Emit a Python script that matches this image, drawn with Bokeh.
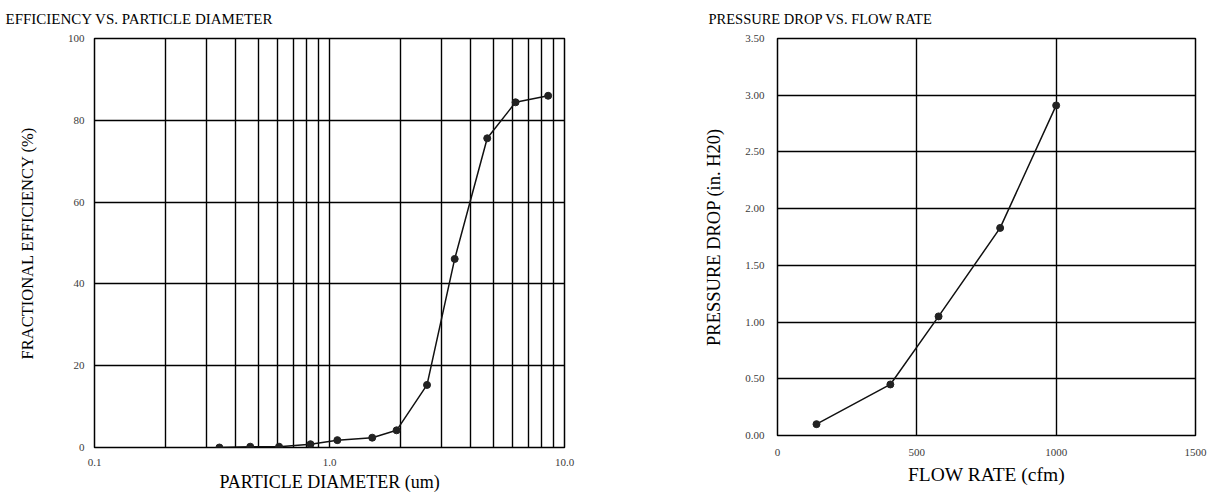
from bokeh.plotting import figure
from bokeh.layouts import row, column
from bokeh.models import Range1d, FixedTicker, PrintfTickFormatter
from bokeh.embed import file_html
from bokeh.resources import INLINE

# ---- data ----
diameter_um = [0.34, 0.46, 0.61, 0.83, 1.08, 1.52, 1.93, 2.60, 3.41, 4.69, 6.19, 8.52]
efficiency_pct = [0.0, 0.2, 0.2, 0.8, 1.8, 2.4, 4.2, 15.3, 46.1, 75.6, 84.4, 86.0]
flow_cfm = [140, 405, 578, 799, 1000]
pressure_drop = [0.10, 0.45, 1.05, 1.83, 2.91]

left_x_ticks = [0.1, 1.0, 10.0]
left_x_grid = [0.2, 0.3, 0.4, 0.5, 0.6, 0.7, 0.8, 0.9, 1, 2, 3, 4, 5, 6, 7, 8, 9]
left_y_ticks = [0, 20, 40, 60, 80, 100]
right_x_ticks = [0, 500, 1000, 1500]
right_y_ticks = [0.0, 0.5, 1.0, 1.5, 2.0, 2.5, 3.0, 3.5]

FONT = "Liberation Serif"
INK = "#111111"


def style(p, title_offset, title_size, xlab_size, ylab_size):
    p.title.text_font = FONT
    p.title.text_font_style = "normal"
    p.title.text_font_size = title_size
    p.title.text_color = "black"
    p.title.align = "left"
    p.title.vertical_align = "top"
    p.title.offset = title_offset
    p.title.standoff = 20
    p.outline_line_color = "black"
    p.outline_line_width = 1.5
    for ax in (p.xaxis[0], p.yaxis[0]):
        ax.axis_line_color = None
        ax.major_tick_line_color = None
        ax.minor_tick_line_color = None
        ax.major_tick_out = 0
        ax.major_tick_in = 0
        ax.minor_tick_out = 0
        ax.minor_tick_in = 0
        ax.major_label_text_font = FONT
        ax.major_label_text_font_size = "11px"
        ax.major_label_text_color = "#3a3a3a"
        ax.axis_label_text_font = FONT
        ax.axis_label_text_font_style = "normal"
        ax.axis_label_text_color = "black"
    p.xaxis[0].axis_label_text_font_size = xlab_size
    p.yaxis[0].axis_label_text_font_size = ylab_size
    for g in (p.xgrid[0], p.ygrid[0]):
        g.grid_line_color = "black"
        g.grid_line_width = 1.4
        g.grid_line_alpha = 1.0
    p.background_fill_color = "white"
    p.border_fill_color = "white"


# ---- left chart ----
p1 = figure(width=600, height=495, x_axis_type="log",
            x_range=Range1d(0.1, 10), y_range=Range1d(0, 100),
            title="EFFICIENCY VS. PARTICLE DIAMETER",
            x_axis_label="PARTICLE DIAMETER (um)",
            y_axis_label="FRACTIONAL EFFICIENCY (%)",
            output_backend="svg", toolbar_location=None,
            min_border_left=94, min_border_right=36,
            min_border_top=38, min_border_bottom=48)
p1.xaxis[0].ticker = FixedTicker(ticks=left_x_ticks, minor_ticks=[])
p1.xaxis[0].formatter = PrintfTickFormatter(format="%.1f")
p1.yaxis[0].ticker = FixedTicker(ticks=left_y_ticks, minor_ticks=[])
style(p1, -89, "15px", "18px", "16.5px")
p1.xgrid[0].ticker = FixedTicker(ticks=left_x_grid, minor_ticks=[])
p1.ygrid[0].ticker = FixedTicker(ticks=left_y_ticks, minor_ticks=[])
p1.xaxis[0].major_label_standoff = 11
p1.xaxis[0].axis_label_standoff = 3
p1.yaxis[0].major_label_standoff = 10
p1.yaxis[0].axis_label_standoff = 28
p1.line(diameter_um, efficiency_pct, line_color=INK, line_width=1.5)
p1.scatter(diameter_um, efficiency_pct, size=7, fill_color="#222222", line_color="#222222")

# ---- right chart ----
p2 = figure(width=624, height=495,
            x_range=Range1d(0, 1500), y_range=Range1d(0, 3.5),
            title="PRESSURE DROP VS. FLOW RATE",
            x_axis_label="FLOW RATE (cfm)",
            y_axis_label="PRESSURE DROP (in. H20)",
            output_backend="svg", toolbar_location=None,
            min_border_left=177, min_border_right=29,
            min_border_top=38, min_border_bottom=60)
p2.xaxis[0].ticker = FixedTicker(ticks=right_x_ticks, minor_ticks=[])
p2.yaxis[0].ticker = FixedTicker(ticks=right_y_ticks, minor_ticks=[])
p2.yaxis[0].formatter = PrintfTickFormatter(format="%.2f")
style(p2, -69, "14.5px", "19.5px", "18.5px")
p2.xaxis[0].major_label_standoff = 13
p2.xaxis[0].axis_label_standoff = 5
p2.yaxis[0].major_label_standoff = 13
p2.yaxis[0].axis_label_standoff = 18
p2.line(flow_cfm, pressure_drop, line_color=INK, line_width=1.5)
p2.scatter(flow_cfm, pressure_drop, size=7, fill_color="#222222", line_color="#222222")

layout = row(column(p1), column(p2))
open("out.html", "w").write(file_html(layout, INLINE))
